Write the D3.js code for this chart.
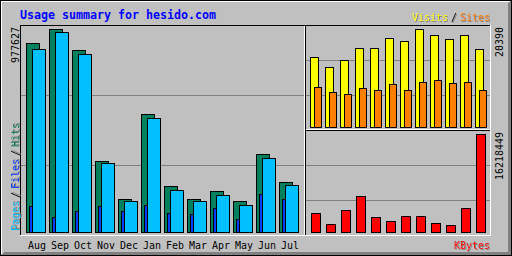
<!DOCTYPE html>
<html>
<head>
<meta charset="utf-8">
<script src="https://cdn.jsdelivr.net/npm/d3@7"></script>
<style>
  body { margin: 0; background: #fff; }
  svg { display: block; }
  text { font-family: "DejaVu Sans Mono", "Liberation Mono", monospace; }
</style>
</head>
<body>
<div id="chart"></div>
<script>
// yearly usage
var months = ['Aug', 'Sep', 'Oct', 'Nov', 'Dec', 'Jan', 'Feb', 'Mar', 'Apr', 'May', 'Jun', 'Jul'];
var hits   = [905400, 977627, 875000, 341900, 157500, 563500, 220100, 157500, 196000, 147800, 374200, 239400];
var files  = [125200,  72200, 101100, 120400, 101100, 128600,  91500,  85200, 110800,  62600, 183000, 158900];
var pages  = [879900, 961700, 857200, 327500, 144500, 544200, 200800, 144500, 176700, 128600, 354900, 224900];
var visits = [14500, 12420, 13880, 16370, 16370, 18450, 17830, 20390, 19080, 18250, 19080, 16170];
var sites  = [8260, 7220, 6800, 8050, 7640, 8880, 7640, 9300, 9720, 9090, 9300, 7640];
var kbytes = [3094700, 1158500, 3475400, 5908100, 2482400, 1820400, 2647900, 2647900, 1489400, 993000, 3922200, 16218449];

var title = 'Usage summary for hesido.com';

var grey = '#c0c0c0', dkgrey = '#808080', black = '#000', white = '#fff';
var hitColor = '#00805c', fileColor = '#0040ff', pageColor = '#00c0ff',
    visitColor = '#ffff00', siteColor = '#ff8000', kbyteColor = '#ff0000',
    titleColor = '#0000ff';

var W = 512, H = 256;

var svg = d3.select('#chart').append('svg')
    .attr('width', W)
    .attr('height', H);

// 1px dark grey drop shadow for the legend texts
var f = svg.append('defs').append('filter').attr('id', 'shadow')
    .attr('x', '-10%').attr('y', '-10%').attr('width', '130%').attr('height', '130%');
f.append('feFlood').attr('flood-color', dkgrey).attr('result', 'c');
f.append('feComposite').attr('in', 'c').attr('in2', 'SourceAlpha').attr('operator', 'in').attr('result', 's');
f.append('feOffset').attr('in', 's').attr('dx', 1).attr('dy', 1).attr('result', 'o');
var fm = f.append('feMerge');
fm.append('feMergeNode').attr('in', 'o');
fm.append('feMergeNode').attr('in', 'SourceGraphic');

svg.append('rect').attr('width', W).attr('height', H).attr('fill', grey);

function hline(x1, x2, y, c) {
    svg.append('line').attr('x1', x1).attr('x2', x2 + 1)
        .attr('y1', y + 0.5).attr('y2', y + 0.5).attr('stroke', c);
}
function vline(x, y1, y2, c) {
    svg.append('line').attr('x1', x + 0.5).attr('x2', x + 0.5)
        .attr('y1', y1).attr('y2', y2 + 1).attr('stroke', c);
}

// outer frame + 3d effect
svg.append('rect').attr('x', 0.5).attr('y', 0.5).attr('width', W - 1).attr('height', H - 1)
    .attr('fill', 'none').attr('stroke', black);
hline(1, W - 3, 1, white);
vline(1, 1, H - 3, white);
for (var i = 1; i < 4; i++) {
    hline(i + 1, W - 2, H - 1 - i, dkgrey);
    vline(W - 1 - i, i, H - 2, dkgrey);
}

// inner box
hline(20, 489, 25, black);
vline(20, 25, 234, black);
hline(20, 490, 235, white);
vline(490, 25, 235, white);

// grid lines
[95, 165].forEach(function(y) { hline(21, 303, y, dkgrey); });
[60, 95, 165, 200].forEach(function(y) { hline(306, 489, y, dkgrey); });

// section lines
vline(304, 26, 234, white);
vline(305, 26, 234, black);
hline(306, 489, 129, white);
hline(306, 489, 130, black);

// scales
var xMain = d3.scalePoint().domain(months).range([26, 26 + 11 * 23]);
var xSide = d3.scalePoint().domain(months).range([310, 310 + 11 * 15]);
var yHits = d3.scaleLinear().domain([0, d3.max(hits)]).range([232, 29]);
var yVisits = d3.scaleLinear().domain([0, d3.max(visits)]).range([127, 29]);
var yKbytes = d3.scaleLinear().domain([0, d3.max(kbytes)]).range([232, 134]);

function bars(values, x, dx, w, y, color) {
    var base = y.range()[0];
    svg.append('g').selectAll('rect')
        .data(values)
        .enter()
            .append('rect')
            .attr('x', function(d, i) { return x(months[i]) + dx + 0.5; })
            .attr('y', function(d) { return Math.floor(y(d)) + 0.5; })
            .attr('width', w)
            .attr('height', function(d) { return base - Math.floor(y(d)); })
            .attr('fill', color)
            .attr('stroke', black);
}

bars(hits, xMain, 0, 13, yHits, hitColor);
bars(files, xMain, 3, 13, yHits, fileColor);
bars(pages, xMain, 6, 13, yHits, pageColor);
bars(visits, xSide, 0, 8, yVisits, visitColor);
bars(sites, xSide, 4, 7, yVisits, siteColor);
bars(kbytes, xSide, 1, 9, yKbytes, kbyteColor);

// text helper, 6px monospaced cells like the gd small font
function txt(s, x, y, color, opts) {
    opts = opts || {};
    var cw = opts.cw || 6;
    var t = svg.append('text')
        .attr('x', x).attr('y', y)
        .attr('fill', color)
        .attr('font-size', (opts.size || 11) + 'px')
        .attr('textLength', cw * s.length)
        .attr('lengthAdjust', 'spacingAndGlyphs')
        .text(s);
    if (opts.bold) t.attr('font-weight', 'bold');
    if (opts.up) t.attr('transform', 'rotate(-90 ' + x + ',' + y + ')');
    if (opts.shadow) t.attr('filter', 'url(#shadow)');
    return t;
}

txt(title, 20, 19, titleColor, { size: 12, bold: true, cw: 7 });

months.forEach(function(m) {
    txt(m, xMain(m) + 2, 249, black);
});

// max values
var maxHits = String(d3.max(hits)),
    maxVisits = String(d3.max(visits)),
    maxKbytes = String(d3.max(kbytes));
txt(maxHits, 19, 27 + maxHits.length * 6, black, { up: true });
txt(maxVisits, 503, 27 + maxVisits.length * 6, black, { up: true });
txt(maxKbytes, 503, 132 + maxKbytes.length * 6, black, { up: true });

// legends
txt('KBytes', 454, 249, kbyteColor, { shadow: true });
txt('Visits', 412, 21, visitColor, { shadow: true });
txt('/', 451, 21, black, { shadow: true });
txt('Sites', 460, 21, siteColor, { shadow: true });

txt('Pages', 19, 231, pageColor, { up: true, shadow: true });
txt('/', 19, 198, black, { up: true, shadow: true });
txt('Files', 19, 189, fileColor, { up: true, shadow: true });
txt('/', 19, 156, black, { up: true, shadow: true });
txt('Hits', 19, 147, hitColor, { up: true, shadow: true });
</script>
</body>
</html>
